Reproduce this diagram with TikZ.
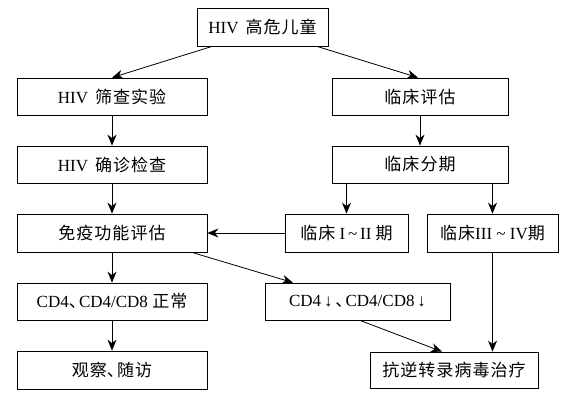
\documentclass[tikz,border=0pt]{standalone}
\usepackage{fontspec}
\setmainfont{Liberation Serif}
\newfontfamily\cjk[LetterSpace=6]{Noto Sans CJK SC}
\usetikzlibrary{arrows.meta}
\tikzset{
  box/.style={draw, line width=0.8bp, minimum width=190bp, minimum height=37bp, inner sep=0pt, font=\fontsize{17bp}{19bp}\selectfont},
  arr/.style={line width=0.8bp, -{Stealth[length=11bp,width=9bp,inset=3.5bp]}}
}
\newcommand{\dun}{\makebox[0.6em][l]{\cjk 、}}
\begin{document}
\begin{tikzpicture}[x=1bp,y=-1bp]
\useasboundingbox (0,0) rectangle (572,404);

\node[box, minimum width=131bp, minimum height=38bp] (top) at (262.5,27) {HIV\, {\cjk 高危儿童}};

\node[box] (scr) at (112,96.5) {HIV\, {\cjk 筛查实验}};
\node[box, minimum width=176bp] (eval) at (420,96.5) {\cjk 临床评估};

\node[box] (conf) at (112,164.5) {HIV\, {\cjk 确诊检查}};
\node[box, minimum width=176bp] (stage) at (420,164.5) {\cjk 临床分期};

\node[box, minimum height=38bp] (imm) at (112,233) {\cjk 免疫功能评估};
\node[box, minimum width=123bp, minimum height=38bp] (s12) at (346.5,233) {{\cjk 临床} I\,\textasciitilde\,II {\cjk 期}};
\node[box, minimum width=131bp, minimum height=38bp] (s34) at (492.5,233) {{\cjk 临床}III \textasciitilde\ IV{\cjk 期}};

\node[box] (norm) at (112,301.5) {CD4\dun CD4/CD8 {\cjk 正常}};
\node[box, minimum width=185bp] (low) at (357.5,301.5) {CD4\,↓\,\dun CD4/CD8\,↓};

\node[box, minimum height=38bp] (obs) at (112,370) {{\cjk 观察}\dun{\cjk 随访}};
\node[box, minimum width=168bp, minimum height=36bp] (art) at (454,370) {\cjk 抗逆转录病毒治疗};

% arrows
\draw[arr] ([xshift=-50.5bp]top.south) -- (scr.north);
\draw[arr] ([xshift=54.5bp]top.south) -- ([xshift=-2bp]eval.north);
\draw[arr] (scr) -- (conf);
\draw[arr] (conf) -- (imm);
\draw[arr] (eval) -- (stage);
\draw[arr] (stage.south -| s12.north) -- (s12.north);
\draw[arr] (stage.south -| s34.north) -- (s34.north);
\draw[arr] (s12.west) -- (imm.east);
\draw[arr] (imm) -- (norm);
\draw[arr] ([xshift=80bp]imm.south) -- ([xshift=-64.5bp]low.north);
\draw[arr] (norm) -- (obs);
\draw[arr] ([xshift=2.5bp]low.south) -- ([xshift=-12bp]art.north);
\draw[arr] (s34.south) -- (s34.south |- art.north);
\end{tikzpicture}
\end{document}
